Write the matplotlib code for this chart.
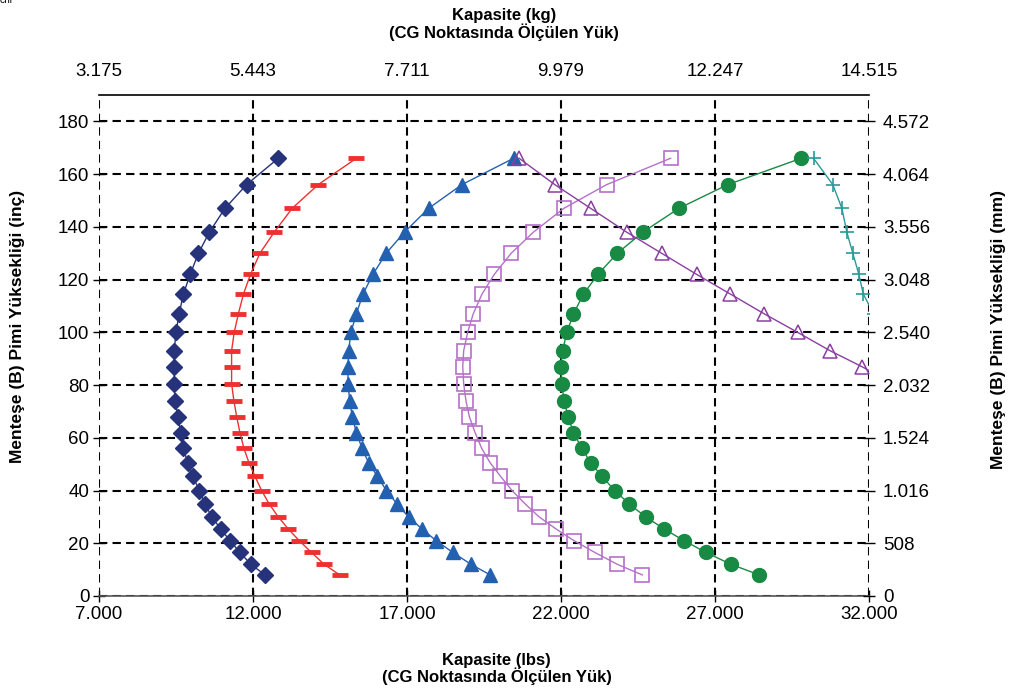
import matplotlib
matplotlib.use("Agg")
import matplotlib.pyplot as plt
from matplotlib.ticker import FixedLocator, FuncFormatter

plt.rcParams['font.family'] = ['Liberation Sans', 'DejaVu Sans']

# pin heights (inches)
heights = [8, 12, 16.5, 21, 25.5, 30, 35, 40, 45.5, 50.5, 56, 62, 68, 74, 80.5,
           87, 93, 100, 107, 114.5, 122, 130, 138, 147, 156, 166]

# capacities (lbs) per curve
cap_diamond = [12390, 11930, 11580, 11250, 10950, 10660, 10440, 10260, 10040, 9880,
               9740, 9655, 9560, 9470, 9440, 9440, 9440, 9500, 9600, 9740,
               9960, 10230, 10585, 11090, 11790, 12820]
cap_dash = [14815, 14310, 13900, 13500, 13140, 12820, 12520, 12280, 12060, 11870,
            11705, 11575, 11470, 11380, 11305, 11305, 11305, 11390, 11525, 11690,
            11920, 12225, 12690, 13270, 14115, 15355]
cap_triangle = [19700, 19080, 18490, 17945, 17480, 17050, 16670, 16330, 16035, 15755,
                15540, 15355, 15225, 15140, 15085, 15085, 15105, 15180, 15355, 15570,
                15895, 16325, 16920, 17700, 18780, 20460]
cap_square = [24640, 23830, 23100, 22420, 21830, 21290, 20830, 20410, 20030, 19700,
              19425, 19210, 19025, 18915, 18840, 18810, 18840, 18970, 19150, 19435,
              19835, 20385, 21105, 22090, 23480, 25560]
cap_circle = [28440, 27520, 26710, 25990, 25340, 24750, 24205, 23745, 23320, 22965,
              22675, 22405, 22230, 22100, 22025, 21995, 22050, 22190, 22405, 22730,
              23200, 23830, 24660, 25825, 27410, 29800]

# upper curves (shorter)
h_open_tri = [80.5, 87, 93, 100, 107, 114.5, 122, 130, 138, 147, 156, 166]
cap_open_tri = [32800, 31765, 30740, 29680, 28600, 27500, 26400, 25265, 24130, 22965, 21800, 20640]
h_cross = [107, 114.5, 122, 130, 138, 147, 156, 166]
cap_cross = [32150, 31815, 31670, 31475, 31280, 31120, 30825, 30200]

x_ticks = [7000, 12000, 17000, 22000, 27000, 32000]
y_ticks = [0, 20, 40, 60, 80, 100, 120, 140, 160, 180]
LB_TO_KG = 0.45359237
IN_TO_MM = 25.4


def dotted(v):
    return f"{v:,.0f}".replace(",", ".")


fig = plt.figure(figsize=(10.14, 6.94), dpi=100)
ax = fig.add_axes([99 / 1014, 1 - 596 / 694, 770 / 1014, 501 / 694])

ax.plot(cap_diamond, heights, '-', color='#26337a', lw=1, marker='D', ms=8)
ax.plot(cap_dash, heights, '-', color='#ee3030', lw=1, marker='_', ms=11, mew=3.5)
ax.plot(cap_triangle, heights, '-', color='#2460b0', lw=1, marker='^', ms=10)
ax.plot(cap_square, heights, '-', color='#b571c8', lw=1, marker='s', ms=9.5,
        mfc='none', mew=1.2)
ax.plot(cap_circle, heights, '-', color='#188a44', lw=1, marker='o', ms=10)
ax.plot(cap_open_tri, h_open_tri, '-', color='#8a3fa0', lw=1, marker='^', ms=10,
        mfc='none', mew=1.1)
ax.plot(cap_cross, h_cross, '-', color='#2a9a98', lw=1, marker='+', ms=10, mew=1.2)

ax.set_xlim(7000, 32000)
ax.set_ylim(0, 190)
ax.xaxis.set_major_locator(FixedLocator(x_ticks))
ax.yaxis.set_major_locator(FixedLocator(y_ticks))
ax.xaxis.set_major_formatter(FuncFormatter(lambda v, p: dotted(v)))
ax.grid(True, color='black', linestyle=(0, (4, 2.5)), lw=1.5)
for s in ['left', 'right']:
    ax.spines[s].set_visible(False)
ax.spines['top'].set_color('black')
ax.spines['top'].set_linewidth(1.2)
ax.spines['bottom'].set_color('#555555')
ax.spines['bottom'].set_linewidth(1.2)
ax.tick_params(labelsize=13.5, direction='inout', length=8, width=1, pad=3)

# top axis in kg
axt = ax.twiny()
axt.set_xlim(ax.get_xlim())
axt.xaxis.set_major_locator(FixedLocator(x_ticks))
axt.xaxis.set_major_formatter(FuncFormatter(lambda v, p: dotted(v * LB_TO_KG)))
axt.tick_params(labelsize=13.5, direction='in', length=0, pad=11)
for s in axt.spines.values():
    s.set_visible(False)

# right axis in mm
axr = ax.twinx()
axr.set_ylim(ax.get_ylim())
axr.yaxis.set_major_locator(FixedLocator(y_ticks))
axr.yaxis.set_major_formatter(FuncFormatter(lambda v, p: dotted(v * IN_TO_MM)))
axr.tick_params(labelsize=13.5, direction='inout', length=8, width=1, pad=6)
for s in axr.spines.values():
    s.set_visible(False)

fig.text(0.497, 0.988, "Kapasite (kg)\n(CG Noktasında Ölçülen Yük)", ha='center',
         va='top', fontsize=12, fontweight='bold', linespacing=1.0)
fig.text(0.49, 0.036, "Kapasite (lbs)\n(CG Noktasında Ölçülen Yük)", ha='center',
         va='center', fontsize=12, fontweight='bold', linespacing=1.0)
fig.text(0.017, 0.53, "Menteşe (B) Pimi Yüksekliği (inç)", rotation=90,
         ha='center', va='center', fontsize=12.5, fontweight='bold')
fig.text(0.985, 0.525, "Menteşe (B) Pimi Yüksekliği (mm)", rotation=90,
         ha='center', va='center', fontsize=12.5, fontweight='bold')
fig.text(0.0, 1.0, "eni", ha='left', va='center', fontsize=7)

fig.savefig("out.png", dpi=100)
